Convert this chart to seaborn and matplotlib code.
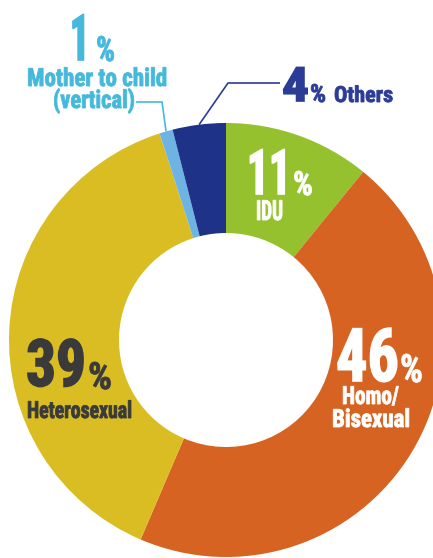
import matplotlib
matplotlib.use("Agg")
import matplotlib.pyplot as plt
from matplotlib import font_manager as fm
from matplotlib.patheffects import AbstractPathEffect
from matplotlib.transforms import Affine2D
import seaborn as sns
import numpy as np

# ---- data ----
categories = ["IDU", "Homo/Bisexual", "Heterosexual", "Mother to child (vertical)", "Others"]
values = [11, 46, 39, 1, 4]
labels_pct = ["11", "46", "39", "1", "4"]
colors = ["#95C12F", "#D66322", "#DABD23", "#6DB3E3", "#1E3388"]

sns.set_theme(style="white")

names = {f.name for f in fm.fontManager.ttflist}
STRETCH = "normal"
for cand in ["Roboto Condensed", "Liberation Sans Narrow", "Open Sans Condensed", "Noto Sans Condensed"]:
    if cand in names:
        MAIN = cand
        break
else:
    MAIN = "DejaVu Sans"
    STRETCH = "condensed"
FONT = [MAIN, "DejaVu Sans"]
plt.rcParams["font.family"] = FONT

W, H = 433, 558
fig = plt.figure(figsize=(W / 100, H / 100), dpi=100)
ax = fig.add_axes([0, 0, 1, 1])


def Y(y):
    return H - y


cx, cy, R, r_in = 226, Y(340), 217, 107
wedges, _ = ax.pie(values, colors=colors, startangle=90, counterclock=False,
                   radius=R, center=(cx, cy), frame=True,
                   wedgeprops=dict(width=R - r_in, linewidth=0))
ax.set_xlim(0, W)
ax.set_ylim(0, H)
ax.set_aspect("equal")
ax.axis("off")


class Tall(AbstractPathEffect):
    """Scale a text vertically around its baseline anchor and embolden it."""
    def __init__(self, sy, x0, y0, lw):
        super().__init__()
        self.sy, self.x0, self.y0, self.lw = sy, x0, y0, lw

    def draw_path(self, renderer, gc, tpath, affine, rgbFace=None):
        aff = affine + Affine2D().translate(-self.x0, -self.y0).scale(1, self.sy).translate(self.x0, self.y0)
        g = renderer.new_gc()
        g.copy_properties(gc)
        if self.lw > 0 and rgbFace is not None:
            g.set_linewidth(self.lw)
            g.set_foreground(rgbFace)
            g.set_joinstyle("miter")
        renderer.draw_path(g, tpath, aff, rgbFace)
        g.restore()


renderer = fig.canvas.get_renderer()


def T(x, y, s, size, color, width, lw=0.6):
    t = ax.text(x, Y(y), s, fontsize=size, color=color, ha="left", va="baseline",
                fontweight="bold", family=FONT, fontstretch=STRETCH)
    bb = t.get_window_extent(renderer=renderer)
    k = float(np.clip(width / bb.width, 0.6, 1.35))
    t.set_fontsize(size * k)
    x0, y0 = ax.transData.transform((x, Y(y)))
    t.set_path_effects([Tall(1.0 / k, x0, y0, lw)])
    return t


lb = "#45B9DC"
db = "#2A3C95"
grey = "#3A3A3A"

# Mother to child (vertical)
T(70, 60, labels_pct[3], 46, lb, 15, 1.2)
T(96, 61, "%", 25, lb, 19)
T(27, 86, "Mother to child", 18, lb, 140)
T(53, 108, "(vertical)", 18, lb, 82)

w = wedges[3]
ang = np.deg2rad((w.theta1 + w.theta2) / 2)
ex, ey = cx + R * np.cos(ang), cy + R * np.sin(ang)
ax.plot([136, ex - 4, ex], [Y(102), Y(102), ey], color=lb, lw=1.2, solid_capstyle="butt")

# Others
w = wedges[4]
ang = np.deg2rad((w.theta1 + w.theta2) / 2)
ex, ey = cx + R * np.cos(ang), cy + R * np.sin(ang)
ax.plot([ex, 228, 280], [ey, Y(83), Y(83)], color=db, lw=1.2, solid_capstyle="butt")
T(282, 101, labels_pct[4], 34, db, 27, 1.2)
T(310, 102, "%", 18, db, 16)
T(334, 102, "Others", 16, db, 59)

# IDU
T(247, 194, labels_pct[0], 45, "white", 44, 1.2)
T(293, 195, "%", 24, "white", 20)
T(256, 220, "IDU", 20, "white", 27)

# Heterosexual
T(26, 386, labels_pct[2], 47, grey, 60, 1.2)
T(88, 389, "%", 27, grey, 24)
T(27, 418, "Heterosexual", 17, grey, 105)

# Homo/Bisexual
T(336, 381, labels_pct[1], 53, "white", 63, 1.2)
T(400, 382, "%", 28, "white", 23)
T(342, 404, "Homo/", 18, "white", 57)
T(332, 427, "Bisexual", 18, "white", 78)

fig.savefig("out.png", dpi=100)
